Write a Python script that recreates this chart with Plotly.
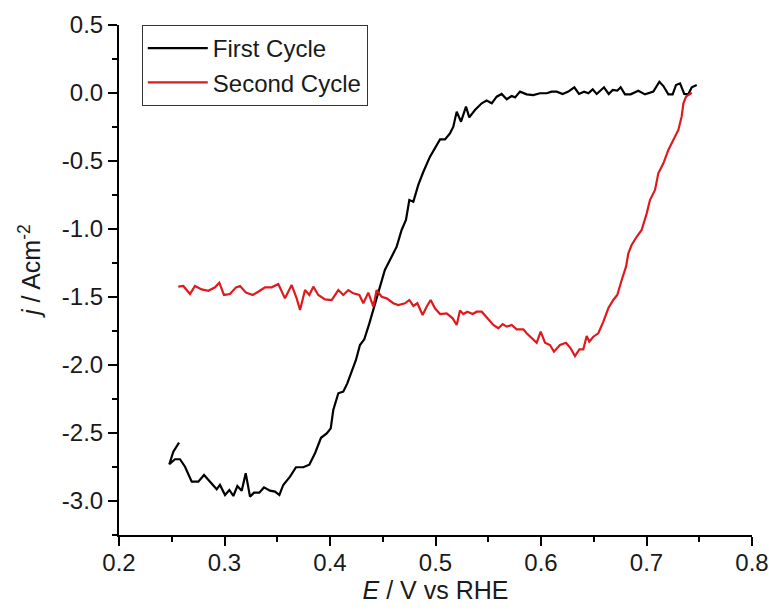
import plotly.graph_objects as go

# First cycle (black)
first_E = [0.2569, 0.2515, 0.2477, 0.2530, 0.2578, 0.2626, 0.2689, 0.2752, 0.2806, 0.2863,
           0.2926, 0.2957, 0.3005, 0.3046, 0.3084, 0.3122, 0.3163, 0.3201, 0.3242, 0.3280,
           0.3330, 0.3374, 0.3431, 0.3479, 0.3520, 0.3557, 0.3621, 0.3678, 0.3747, 0.3804,
           0.3858, 0.3915, 0.3969, 0.4007, 0.4031, 0.4079, 0.4126, 0.4164, 0.4206, 0.4246,
           0.4284, 0.4325, 0.4373, 0.4417, 0.4474, 0.4520, 0.4584, 0.4632, 0.4679, 0.4720,
           0.4752, 0.4790, 0.4837, 0.4885, 0.4948, 0.4995, 0.5043, 0.5090, 0.5137, 0.5169,
           0.5201, 0.5242, 0.5289, 0.5320, 0.5374, 0.5438, 0.5485, 0.5533, 0.5580, 0.5627,
           0.5675, 0.5722, 0.5754, 0.5801, 0.5864, 0.5927, 0.5990, 0.6054, 0.6101, 0.6149,
           0.6205, 0.6259, 0.6316, 0.6360, 0.6408, 0.6449, 0.6490, 0.6528, 0.6597, 0.6642,
           0.6680, 0.6723, 0.6755, 0.6796, 0.6850, 0.6922, 0.6986, 0.7065, 0.7122, 0.7160,
           0.7207, 0.7248, 0.7280, 0.7318, 0.7358, 0.7396, 0.7429, 0.7476]
first_j = [-2.571, -2.637, -2.730, -2.693, -2.693, -2.748, -2.858, -2.858, -2.809, -2.858,
           -2.914, -2.882, -2.956, -2.919, -2.963, -2.890, -2.924, -2.796, -2.968, -2.939,
           -2.939, -2.900, -2.924, -2.931, -2.956, -2.882, -2.821, -2.752, -2.752, -2.733,
           -2.649, -2.535, -2.503, -2.466, -2.331, -2.208, -2.196, -2.135, -2.042, -1.963,
           -1.853, -1.811, -1.694, -1.571, -1.412, -1.301, -1.204, -1.130, -1.007, -0.934,
           -0.787, -0.799, -0.676, -0.579, -0.468, -0.407, -0.341, -0.341, -0.297, -0.248,
           -0.137, -0.211, -0.100, -0.179, -0.125, -0.076, -0.056, -0.076, -0.027, -0.007,
           -0.046, -0.022, -0.032, 0.010, -0.010, -0.015, -0.002, -0.002, 0.010, 0.010,
           -0.007, 0.010, 0.042, -0.007, 0.010, -0.002, 0.027, -0.007, 0.042, -0.007,
           0.022, 0.017, 0.042, -0.010, -0.010, 0.017, -0.010, 0.010, 0.083, 0.051,
           -0.010, -0.010, 0.059, 0.071, -0.007, -0.010, 0.042, 0.059]

# Second cycle (red)
second_E = [0.2562, 0.2610, 0.2673, 0.2720, 0.2784, 0.2847, 0.2910, 0.2951, 0.2995, 0.3052,
            0.3109, 0.3147, 0.3204, 0.3267, 0.3320, 0.3384, 0.3447, 0.3510, 0.3573, 0.3637,
            0.3684, 0.3716, 0.3763, 0.3804, 0.3842, 0.3889, 0.3953, 0.4016, 0.4079, 0.4126,
            0.4174, 0.4221, 0.4278, 0.4316, 0.4363, 0.4411, 0.4442, 0.4490, 0.4537, 0.4600,
            0.4647, 0.4711, 0.4752, 0.4790, 0.4828, 0.4878, 0.4916, 0.4954, 0.4995, 0.5043,
            0.5106, 0.5163, 0.5201, 0.5232, 0.5264, 0.5302, 0.5353, 0.5390, 0.5438, 0.5491,
            0.5548, 0.5596, 0.5637, 0.5675, 0.5722, 0.5770, 0.5833, 0.5864, 0.5911, 0.5959,
            0.5997, 0.6038, 0.6085, 0.6123, 0.6180, 0.6237, 0.6281, 0.6322, 0.6364, 0.6401,
            0.6433, 0.6458, 0.6496, 0.6543, 0.6591, 0.6638, 0.6685, 0.6723, 0.6765, 0.6806,
            0.6828, 0.6859, 0.6907, 0.6954, 0.7002, 0.7033, 0.7081, 0.7112, 0.7160, 0.7207,
            0.7254, 0.7302, 0.7333, 0.7350, 0.7375, 0.7429]
second_j = [-1.424, -1.419, -1.478, -1.419, -1.444, -1.454, -1.429, -1.395, -1.485, -1.478,
            -1.429, -1.419, -1.468, -1.485, -1.461, -1.429, -1.429, -1.404, -1.510, -1.412,
            -1.510, -1.596, -1.449, -1.485, -1.424, -1.485, -1.517, -1.522, -1.449, -1.485,
            -1.449, -1.473, -1.485, -1.546, -1.468, -1.571, -1.449, -1.498, -1.510, -1.546,
            -1.559, -1.546, -1.522, -1.566, -1.546, -1.632, -1.571, -1.522, -1.583, -1.625,
            -1.620, -1.657, -1.706, -1.600, -1.625, -1.608, -1.625, -1.608, -1.608, -1.657,
            -1.706, -1.730, -1.699, -1.718, -1.706, -1.738, -1.738, -1.767, -1.804, -1.836,
            -1.755, -1.836, -1.853, -1.902, -1.853, -1.836, -1.877, -1.934, -1.885, -1.885,
            -1.787, -1.829, -1.792, -1.767, -1.681, -1.583, -1.522, -1.485, -1.375, -1.277,
            -1.179, -1.118, -1.057, -1.007, -0.885, -0.787, -0.713, -0.590, -0.517, -0.419,
            -0.346, -0.272, -0.174, -0.076, -0.027, 0.002]

x_ticks = [0.2, 0.3, 0.4, 0.5, 0.6, 0.7, 0.8]
y_ticks = [0.5, 0.0, -0.5, -1.0, -1.5, -2.0, -2.5, -3.0]

FONT = "Liberation Sans, Arial, sans-serif"
TXT = "#1a1a1a"

fig = go.Figure()
fig.add_trace(go.Scatter(x=first_E, y=first_j, mode="lines", name="First Cycle",
                         line=dict(color="#000000", width=2.2)))
fig.add_trace(go.Scatter(x=second_E, y=second_j, mode="lines", name="Second Cycle",
                         line=dict(color="#de1a1f", width=2.2)))

axis_common = dict(
    showgrid=False, zeroline=False, showline=True, linecolor="black", linewidth=2,
    ticks="outside", ticklen=9, tickwidth=2, tickcolor="black",
    tickfont=dict(family=FONT, size=24, color=TXT),
    mirror=False, automargin=False,
)

fig.update_xaxes(
    range=[0.2, 0.8], tickvals=x_ticks, ticktext=[f"{v:.1f}" for v in x_ticks],
    ticklabelstandoff=-4,
    minor=dict(ticks="outside", ticklen=5, tickwidth=2, tickcolor="black", dtick=0.05, tick0=0.2, showgrid=False),
    title=dict(text="<i>E</i> / V vs RHE", font=dict(family=FONT, size=25, color=TXT), standoff=6),
    **axis_common,
)
fig.update_yaxes(
    range=[-3.25, 0.5], tickvals=y_ticks, ticktext=[f"{v:.1f}" for v in y_ticks],
    minor=dict(ticks="outside", ticklen=5, tickwidth=2, tickcolor="black", dtick=0.25, tick0=0.0, showgrid=False),
    title=dict(text="&nbsp;&nbsp;&nbsp;<i>j</i> / Acm<sup>-2</sup>", font=dict(family=FONT, size=25, color=TXT), standoff=14),
    **axis_common,
)

fig.update_layout(
    width=769, height=610,
    margin=dict(l=119, r=17, t=25, b=75),
    plot_bgcolor="white", paper_bgcolor="white",
    legend=dict(x=0.036, y=1.0, xanchor="left", yanchor="top",
                bgcolor="white", bordercolor="#333333", borderwidth=1,
                font=dict(family=FONT, size=24, color=TXT),
                itemwidth=60, tracegroupgap=0),
    showlegend=True,
)

fig.write_html("out.html")
